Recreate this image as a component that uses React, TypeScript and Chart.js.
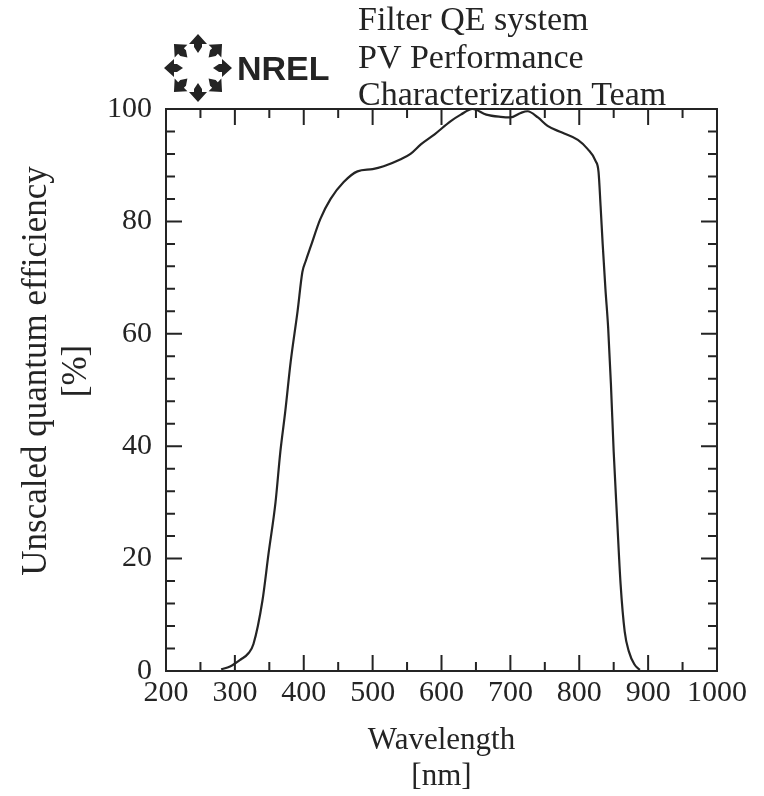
import React, { useEffect, useRef } from "react";
import { Chart, registerables } from "chart.js";

Chart.register(...registerables);

// Wavelength (nm) and unscaled quantum efficiency (%)
const wavelengthNm = [
  280, 293, 308, 320, 327, 340, 349, 359, 366, 373, 381, 391, 398, 403, 410,
  424, 439, 458, 478, 500, 516, 540, 555, 570, 590, 613, 628, 645, 665, 686,
  700, 715, 725, 740, 754, 775, 798, 812, 824, 828, 831, 834, 838, 842, 846,
  850, 855, 860, 866, 872, 880, 888,
];
const qePercent = [
  0.3, 0.8, 2, 3.2, 4.8, 12.5, 21, 30, 39, 46, 55, 64, 71, 73, 75.5,
  80.4, 84, 87, 88.9, 89.3, 89.8, 91, 92, 93.7, 95.5, 97.8, 99, 100, 99, 98.6,
  98.5, 99.3, 99.6, 98.5, 97, 95.8, 94.5, 92.9, 90.7, 88.8, 82.7, 76, 68, 61, 51,
  39, 27, 15.5, 7, 3.5, 1.2, 0.2,
];

const xMajorTicks = [200, 300, 400, 500, 600, 700, 800, 900, 1000];
const xMinorTicks = [250, 350, 450, 550, 650, 750, 850, 950];
const yMajorTicks = [0, 20, 40, 60, 80, 100];
const yMinorTicks = [4, 8, 12, 16, 24, 28, 32, 36, 44, 48, 52, 56, 64, 68, 72, 76, 84, 88, 92, 96];

const headerLines = ["Filter QE system", "PV Performance", "Characterization Team"];
const logoText = "NREL";
const xTitle = ["Wavelength", "[nm]"];
const yTitle = ["Unscaled quantum efficiency", "[%]"];

const INK = "#242424";
const SERIF = "'Liberation Serif', 'Times New Roman', serif";

const framePlugin = {
  id: "frameTicks",
  afterDatasetsDraw(chart: any) {
    const { ctx, chartArea, scales } = chart;
    const { left, right, top, bottom } = chartArea;
    const xs = scales.x;
    const ys = scales.y;
    const MAJ = 16;
    const MIN = 9;
    ctx.save();
    ctx.strokeStyle = INK;
    ctx.lineWidth = 2;
    ctx.strokeRect(left, top, right - left, bottom - top);
    ctx.beginPath();
    const xt = (v: number, len: number) => {
      const p = xs.getPixelForValue(v);
      ctx.moveTo(p, bottom);
      ctx.lineTo(p, bottom - len);
      ctx.moveTo(p, top);
      ctx.lineTo(p, top + len);
    };
    const yt = (v: number, len: number) => {
      const p = ys.getPixelForValue(v);
      ctx.moveTo(left, p);
      ctx.lineTo(left + len, p);
      ctx.moveTo(right, p);
      ctx.lineTo(right - len, p);
    };
    xMajorTicks.forEach((v) => xt(v, MAJ));
    xMinorTicks.forEach((v) => xt(v, MIN));
    yMajorTicks.forEach((v) => yt(v, MAJ));
    yMinorTicks.forEach((v) => yt(v, MIN));
    ctx.stroke();
    ctx.restore();
  },
};

const headerPlugin = {
  id: "header",
  afterDraw(chart: any) {
    const { ctx } = chart;
    ctx.save();
    ctx.fillStyle = INK;
    ctx.textAlign = "left";
    ctx.textBaseline = "alphabetic";
    ctx.font = `34px ${SERIF}`;
    const baselines = [30, 68, 105];
    headerLines.forEach((t, i) => ctx.fillText(t, 358, baselines[i]));

    // Y axis title (two rotated lines)
    ctx.save();
    ctx.font = `35px ${SERIF}`;
    ctx.textAlign = "center";
    ctx.textBaseline = "middle";
    const yCenters = [37, 77];
    yTitle.forEach((t, i) => {
      ctx.save();
      ctx.translate(yCenters[i], 371);
      ctx.rotate(-Math.PI / 2);
      ctx.fillText(t, 0, 0);
      ctx.restore();
    });
    ctx.restore();

    // NREL logo: ring of arrows
    const cx = 198;
    const cy = 68;
    for (let k = 0; k < 8; k++) {
      const a = (k * Math.PI) / 4 - Math.PI / 2;
      ctx.save();
      ctx.translate(cx, cy);
      ctx.rotate(a);
      ctx.beginPath();
      ctx.moveTo(15, 0);
      ctx.lineTo(21, -4);
      ctx.lineTo(24, -4);
      ctx.lineTo(24, -9);
      ctx.lineTo(34, 0);
      ctx.lineTo(24, 9);
      ctx.lineTo(24, 4);
      ctx.lineTo(21, 4);
      ctx.closePath();
      ctx.fill();
      ctx.restore();
    }
    ctx.font = `bold 34px 'Liberation Sans', 'DejaVu Sans', sans-serif`;
    ctx.textAlign = "left";
    ctx.textBaseline = "alphabetic";
    ctx.fillText(logoText, 237, 80);
    ctx.restore();
  },
};

export default function App() {
  const canvasRef = useRef<HTMLCanvasElement | null>(null);

  useEffect(() => {
    const canvas = canvasRef.current;
    if (!canvas) return;
    const points = wavelengthNm.map((w, i) => ({ x: w, y: qePercent[i] }));
    const chart = new Chart(canvas, {
      type: "line",
      data: {
        datasets: [
          {
            data: points,
            borderColor: INK,
            borderWidth: 2.2,
            pointRadius: 0,
            fill: false,
            cubicInterpolationMode: "monotone",
          },
        ],
      },
      options: {
        responsive: false,
        animation: false,
        devicePixelRatio: 1,
        layout: { padding: { top: 109, right: 47, left: 0, bottom: 0 } },
        plugins: {
          legend: { display: false },
          tooltip: { enabled: false },
        },
        scales: {
          x: {
            type: "linear",
            min: 200,
            max: 1000,
            afterFit: (s: any) => {
              s.height = 125;
            },
            afterBuildTicks: (s: any) => {
              s.ticks = xMajorTicks.map((v) => ({ value: v }));
            },
            grid: { display: false, drawTicks: false },
            border: { display: false },
            ticks: {
              color: INK,
              padding: 4,
              maxRotation: 0,
              autoSkip: false,
              font: { family: SERIF, size: 30 },
              callback: (v: any) => String(v),
            },
            title: {
              display: true,
              text: xTitle,
              color: INK,
              font: { family: SERIF, size: 31, lineHeight: 1.17 },
              padding: { top: 0, bottom: 1 },
            },
          },
          y: {
            type: "linear",
            min: 0,
            max: 100,
            afterFit: (s: any) => {
              s.width = 166;
            },
            afterBuildTicks: (s: any) => {
              s.ticks = yMajorTicks.map((v) => ({ value: v }));
            },
            grid: { display: false, drawTicks: false },
            border: { display: false },
            ticks: {
              color: INK,
              padding: 14,
              autoSkip: false,
              font: { family: SERIF, size: 30 },
              callback: (v: any) => String(v),
            },
            title: { display: false },
          },
        },
      },
      plugins: [framePlugin, headerPlugin],
    } as any);
    return () => chart.destroy();
  }, []);

  return (
    <div style={{ position: "absolute", left: 0, top: 0, width: 764, height: 796, background: "#fff" }}>
      <canvas ref={canvasRef} width={764} height={796} style={{ display: "block" }} />
    </div>
  );
}
